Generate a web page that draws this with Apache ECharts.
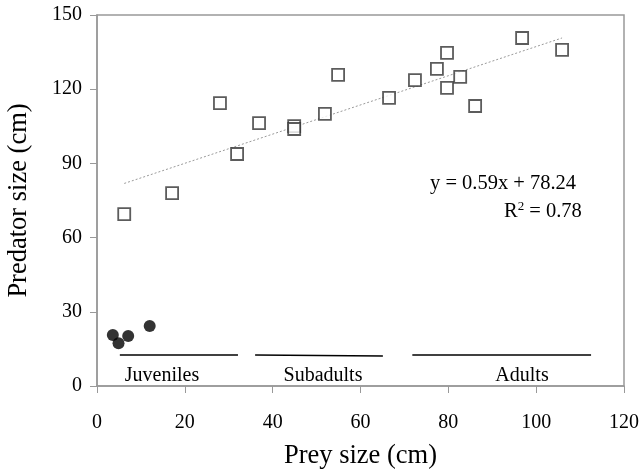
<!DOCTYPE html>
<html>
<head>
<meta charset="utf-8">
<script src="https://cdn.jsdelivr.net/npm/echarts@6/dist/echarts.min.js"></script>
<style>
  html, body { margin: 0; padding: 0; background: #fff; }
  #main { width: 639px; height: 473px; }
</style>
</head>
<body>
<div id="main"></div>
<script>
// squares: subadults + adults
var preyOpen = [6.2, 17.1, 28.0, 31.9, 36.9, 44.9, 44.9, 51.9, 54.9, 66.5, 72.4, 77.4, 79.7, 79.7, 82.7, 86.1, 96.8, 105.9];
var predOpen = [69.5, 78.0, 114.4, 93.8, 106.3, 105.1, 103.9, 110.0, 125.8, 116.5, 123.7, 128.2, 134.7, 120.5, 125.0, 113.2, 140.7, 135.9];
// filled circles: juveniles
var preyFilled = [3.6, 4.9, 7.1, 12.0];
var predFilled = [20.6, 17.3, 20.2, 24.3];

// trend line y = 0.59x + 78.24
var slope = 0.59, intercept = 78.24;
var trendX = [6.2, 105.9];

// size class bars
var groupNames = ['Juveniles', 'Subadults', 'Adults'];
var groupStart = [5.2, 36.0, 71.8];
var groupEnd = [32.1, 65.1, 112.5];
var groupY = [12.5, 12.5, 12.5];
var groupYEnd = [12.5, 12.1, 12.5];

var xTicks = [0, 20, 40, 60, 80, 100, 120];
var yTicks = [0, 30, 60, 90, 120, 150];

function zip(a, b) { return a.map(function (v, i) { return [v, b[i]]; }); }

var serif = 'Liberation Serif';
var series = [
  {
    type: 'line',
    data: trendX.map(function (x) { return [x, slope * x + intercept]; }),
    symbol: 'none',
    lineStyle: { color: '#999', width: 1, type: [2, 2] },
    z: 1
  },
  {
    type: 'scatter',
    data: zip(preyOpen, predOpen),
    symbol: 'rect',
    symbolSize: 12,
    itemStyle: { color: '#fff', borderColor: '#333', borderWidth: 1.8 },
    z: 3
  },
  {
    type: 'scatter',
    data: zip(preyFilled, predFilled),
    symbol: 'circle',
    symbolSize: 12,
    itemStyle: { color: '#000' },
    z: 3
  }
];
groupNames.forEach(function (name, i) {
  series.push({
    type: 'line',
    data: [[groupStart[i], groupY[i]], [groupEnd[i], groupYEnd[i]]],
    symbol: 'none',
    lineStyle: { color: '#000', width: 1.5 },
    z: 2
  });
});

var chart = echarts.init(document.getElementById('main'));
chart.setOption({
  animation: false,
  grid: {
    left: 97, right: 15, top: 15, bottom: 87,
    outerBoundsMode: 'none', containLabel: false,
    show: true, borderColor: '#999', borderWidth: 1.5, backgroundColor: 'transparent'
  },
  xAxis: {
    type: 'value', min: 0, max: 120, interval: 20,
    name: 'Prey size (cm)', nameLocation: 'middle', nameGap: 57,
    nameTextStyle: { fontFamily: serif, fontSize: 26.5, color: '#000' },
    axisLine: { show: true, lineStyle: { color: '#999', width: 1.5 } },
    axisTick: { show: true, length: 7, lineStyle: { color: '#999' } },
    axisLabel: { fontFamily: serif, fontSize: 20, color: '#000', margin: 27 },
    splitLine: { show: false }
  },
  yAxis: {
    type: 'value', min: 0, max: 150, interval: 30,
    name: 'Predator size (cm)', nameLocation: 'middle', nameGap: 64,
    nameTextStyle: { fontFamily: serif, fontSize: 26.5, color: '#000' },
    axisLine: { show: true, lineStyle: { color: '#999', width: 1.5 } },
    axisTick: { show: true, length: 7, lineStyle: { color: '#999' } },
    axisLabel: { fontFamily: serif, fontSize: 20, color: '#000', margin: 15 },
    splitLine: { show: false }
  },
  graphic: [
    { type: 'text', left: 430, top: 173, style: { text: 'y = 0.59x + 78.24', font: '20.5px "Liberation Serif"', fill: '#000' } },
    { type: 'text', left: 504, top: 200, style: { rich: { b: { fontFamily: serif, fontSize: 20.5 }, s: { fontFamily: serif, fontSize: 13, verticalAlign: 'top', padding: [0, 0, 10, 0] } }, text: '{b|R}{s|2}{b| = 0.78}' } },
    { type: 'text', x: 162, y: 376, style: { text: groupNames[0], font: '20px "Liberation Serif"', fill: '#000', align: 'center', verticalAlign: 'middle' } },
    { type: 'text', x: 323, y: 376, style: { text: groupNames[1], font: '20px "Liberation Serif"', fill: '#000', align: 'center', verticalAlign: 'middle' } },
    { type: 'text', x: 522, y: 376, style: { text: groupNames[2], font: '20px "Liberation Serif"', fill: '#000', align: 'center', verticalAlign: 'middle' } }
  ],
  series: series
});
</script>
</body>
</html>
